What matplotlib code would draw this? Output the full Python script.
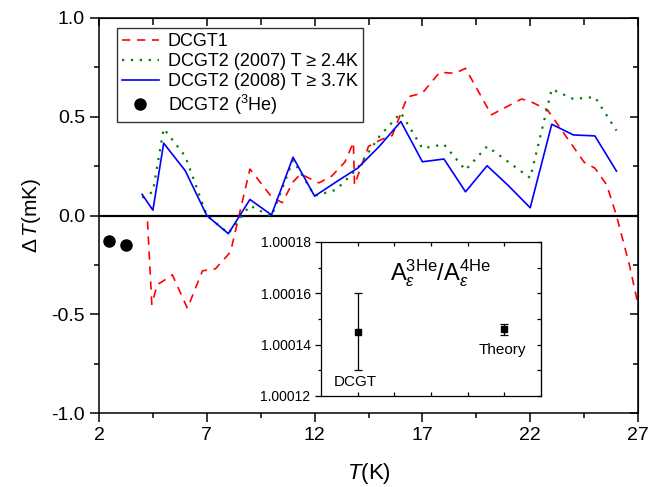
import matplotlib
matplotlib.use("Agg")
import matplotlib.pyplot as plt
from matplotlib.ticker import MultipleLocator, FixedLocator, NullFormatter

plt.rcParams['font.family'] = ['Liberation Sans', 'DejaVu Sans']
plt.rcParams['mathtext.fontset'] = 'custom'
plt.rcParams['mathtext.rm'] = 'Liberation Sans'
plt.rcParams['mathtext.it'] = 'Liberation Sans:italic'
plt.rcParams['mathtext.sf'] = 'Liberation Sans'
plt.rcParams['axes.unicode_minus'] = False

# ---- data ----
T_dcgt1 = [4.25, 4.45, 4.7, 5.0, 5.4, 6.1, 6.8, 7.4, 8.1, 9.0, 10.0, 10.5, 11.0, 11.35,
           12.2, 12.8, 13.4, 13.8, 13.85, 14.5, 15.1, 15.6, 16.3, 17.0, 17.8, 18.5,
           19.0, 20.2, 21.6, 22.0, 22.8, 24.5, 25.0, 25.55, 26.0, 26.6, 27.0]
dT_dcgt1 = [-0.03, -0.45, -0.35, -0.33, -0.30, -0.47, -0.28, -0.27, -0.185, 0.235, 0.095,
            0.065, 0.17, 0.21, 0.165, 0.20, 0.27, 0.37, 0.155, 0.35, 0.385, 0.405, 0.60,
            0.62, 0.725, 0.72, 0.745, 0.51, 0.59, 0.578, 0.535, 0.27, 0.24, 0.155, 0.0,
            -0.25, -0.45]

T_2007 = [4.0, 4.5, 5.0, 6.0, 7.0, 8.0, 9.0, 10.0, 11.0, 12.0, 13.0, 14.0, 15.0, 16.0,
          17.0, 18.0, 19.0, 20.0, 21.0, 22.0, 23.0, 24.0, 25.0, 26.0]
dT_2007 = [0.09, 0.12, 0.44, 0.30, 0.0, -0.09, 0.05, -0.005, 0.28, 0.10, 0.13, 0.24,
           0.40, 0.52, 0.34, 0.36, 0.23, 0.35, 0.27, 0.19, 0.64, 0.59, 0.60, 0.43]

T_2008 = [4.0, 4.5, 5.0, 6.0, 7.0, 8.0, 9.0, 10.0, 11.0, 12.0, 13.0, 14.0, 15.0, 16.0,
          17.0, 18.0, 19.0, 20.0, 21.0, 22.0, 23.0, 24.0, 25.0, 26.0]
dT_2008 = [0.107, 0.027, 0.366, 0.227, 0.0, -0.092, 0.081, 0.003, 0.295, 0.098, 0.17,
           0.24, 0.35, 0.476, 0.272, 0.286, 0.12, 0.252, 0.15, 0.039, 0.462, 0.408,
           0.403, 0.225]

T_he3 = [2.45, 3.25]
dT_he3 = [-0.13, -0.15]

labels = ['DCGT1', 'DCGT2 (2007) T \u2265 2.4K', 'DCGT2 (2008) T \u2265 3.7K',
          r'DCGT2 ($^{3}$He)']

x_ticks = [2, 7, 12, 17, 22, 27]
x_minor = [4.5, 9.5, 14.5, 19.5, 24.5]

# inset data
inset_names = ['DCGT', 'Theory']
inset_x = [1, 5]
inset_ratio = [1.000145, 1.000146]
inset_err = [0.000015, 0.0000022]

# ---- figure ----
fig = plt.figure(figsize=(6.48, 4.87), dpi=100)
ax = fig.add_axes([99/648, 1-413/487, 539/648, 395/487])

l1, = ax.plot(T_dcgt1, dT_dcgt1, color='red', lw=1.2, linestyle=(0, (5, 4)))
l2, = ax.plot(T_2007, dT_2007, color='green', lw=1.6, linestyle=(0, (1, 3)))
l3, = ax.plot(T_2008, dT_2008, color='blue', lw=1.2)
l4, = ax.plot(T_he3, dT_he3, 'o', color='black', ms=8, linestyle='none')
ax.axhline(0, color='black', lw=1.6, zorder=1)

ax.set_xlim(2, 27)
ax.set_ylim(-1, 1)
ax.xaxis.set_major_locator(FixedLocator(x_ticks))
ax.xaxis.set_minor_locator(FixedLocator(x_minor))
ax.yaxis.set_major_locator(MultipleLocator(0.5))
ax.yaxis.set_minor_locator(MultipleLocator(0.25))
ax.yaxis.set_major_formatter(matplotlib.ticker.FormatStrFormatter('%.1f'))
ax.tick_params(which='both', direction='out', labelsize=14, width=1.1)
ax.tick_params(which='major', length=6.5)
ax.tick_params(which='minor', length=3.5)
for s in ax.spines.values():
    s.set_linewidth(1.1)

secx = ax.secondary_xaxis('top')
secx.xaxis.set_major_locator(FixedLocator(x_ticks))
secx.xaxis.set_minor_locator(FixedLocator(x_minor))
secx.tick_params(which='both', direction='in', labeltop=False, width=1.1)
secx.tick_params(which='major', length=6)
secx.tick_params(which='minor', length=5)
secy = ax.secondary_yaxis('right')
secy.yaxis.set_major_locator(MultipleLocator(0.5))
secy.yaxis.set_minor_locator(MultipleLocator(0.25))
secy.tick_params(which='both', direction='in', labelright=False, width=1.1)
secy.tick_params(which='major', length=6)
secy.tick_params(which='minor', length=3.5)

ax.set_xlabel(r'$\mathit{T}$(K)', fontsize=16, labelpad=12)
ax.set_ylabel(r'$\Delta\,\mathit{T}$(mK)', fontsize=15, labelpad=6)

leg = ax.legend([l1, l2, l3, l4], labels, loc='upper left',
                bbox_to_anchor=(0.0334, 0.9747), borderaxespad=0, fontsize=13,
                fancybox=False, frameon=True, handlelength=2.0, labelspacing=0.15,
                borderpad=0.3, handletextpad=0.5)
leg.get_frame().set_edgecolor('black')
leg.get_frame().set_linewidth(1.0)

# ---- inset ----
ins = fig.add_axes([321/648, 1-396/487, 220/648, 154/487])
ins.errorbar(inset_x, inset_ratio, yerr=inset_err, fmt='s', color='black', ms=5,
             capsize=3, elinewidth=0.9, capthick=0.9)
ins.set_xlim(0, 6)
ins.set_ylim(1.00012, 1.00018)
ins.xaxis.set_major_locator(FixedLocator([1, 2, 3, 4, 5]))
ins.xaxis.set_major_formatter(NullFormatter())
ins.yaxis.set_major_locator(MultipleLocator(0.00002))
ins.yaxis.set_minor_locator(MultipleLocator(0.00001))
ins.yaxis.set_major_formatter(matplotlib.ticker.FormatStrFormatter('%.5f'))
ins.tick_params(axis='y', which='both', direction='out', labelsize=10, width=0.9)
ins.tick_params(axis='y', which='major', length=4)
ins.tick_params(axis='y', which='minor', length=2.5)
ins.tick_params(axis='x', which='both', direction='in', top=True, bottom=True,
                length=3, width=0.9)
for s in ins.spines.values():
    s.set_linewidth(0.9)
insy = ins.secondary_yaxis('right')
insy.yaxis.set_major_locator(MultipleLocator(0.00001))
insy.tick_params(which='both', direction='in', labelright=False, length=3, width=0.9)

ins.text(0.93, 1.0001255, inset_names[0], ha='center', va='center', fontsize=11)
ins.text(4.96, 1.000138, inset_names[1], ha='center', va='center', fontsize=11)
ins.text(3.27, 1.000168,
         r'$\mathrm{A}_{\varepsilon}^{\mathrm{3He}}/\mathrm{A}_{\varepsilon}^{\mathrm{4He}}$',
         ha='center', va='center', fontsize=17)

fig.savefig('out.png', dpi=100)
